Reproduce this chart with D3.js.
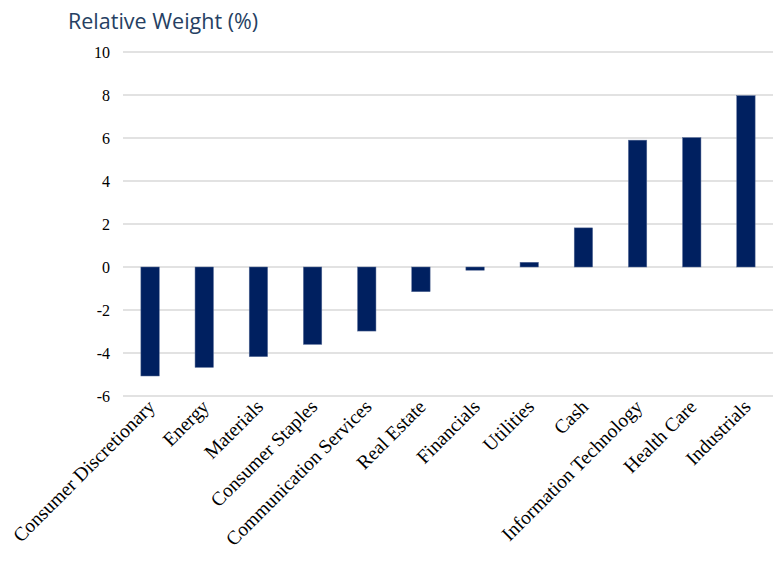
<!DOCTYPE html>
<html>
<head>
<meta charset="utf-8">
<script src="https://cdn.jsdelivr.net/npm/d3@7"></script>
<style>
  body { margin: 0; background: #fff; }
</style>
</head>
<body>
<div id="chart"></div>
<script>
// data
var sectors = ["Consumer Discretionary", "Energy", "Materials", "Consumer Staples",
  "Communication Services", "Real Estate", "Financials", "Utilities", "Cash",
  "Information Technology", "Health Care", "Industrials"];
var weights = [-5.07, -4.67, -4.17, -3.6, -2.98, -1.15, -0.15, 0.22, 1.82, 5.9, 6.02, 7.97];
var yTicks = [-6, -4, -2, 0, 2, 4, 6, 8, 10];

var svgWidth = 781, svgHeight = 569;
var margin = {top: 52, left: 123, bottom: 173, right: 8};
var chartwidth = svgWidth - margin.left - margin.right,
    chartheight = svgHeight - margin.top - margin.bottom;

var svg = d3.select("#chart")
  .append("svg")
    .attr("width", svgWidth)
    .attr("height", svgHeight);

svg.append("text")
  .attr("x", 68)
  .attr("y", 29)
  .attr("fill", "#263f63")
  .style("font-family", "'Open Sans', sans-serif")
  .style("font-size", "21.5px")
  .text("Relative Weight (%)");

var g = svg.append("g")
  .attr("transform", "translate(" + margin.left + "," + margin.top + ")");

var x = d3.scaleBand()
  .domain(sectors)
  .range([0, chartwidth])
  .paddingInner(0.66)
  .paddingOuter(0.33);

var y = d3.scaleLinear()
  .domain([-6, 10])
  .range([chartheight, 0]);

// gridlines
g.selectAll(".grid")
  .data(yTicks)
  .enter().append("line")
  .attr("class", "grid")
  .attr("x1", 0)
  .attr("x2", chartwidth)
  .attr("y1", d => y(d))
  .attr("y2", d => y(d))
  .attr("stroke", "#d9d9d9")
  .attr("stroke-width", 1.5);

// y axis labels (plain hyphen for negatives, like the original)
var yAxis = g.append("g")
  .call(d3.axisLeft(y).tickValues(yTicks).tickSize(0).tickPadding(13).tickFormat(d => String(d)));
yAxis.select(".domain").remove();
yAxis.selectAll("text")
  .style("font-family", "'Liberation Serif', serif")
  .style("font-size", "16px")
  .attr("fill", "#000");

// bars
g.selectAll(".bar")
  .data(weights)
  .enter().append("rect")
  .attr("class", "bar")
  .attr("x", (d, i) => x(sectors[i]))
  .attr("width", x.bandwidth())
  .attr("y", d => y(Math.max(0, d)))
  .attr("height", d => Math.abs(y(d) - y(0)))
  .attr("fill", "#002060")
  .attr("stroke", "#5b6f99")
  .attr("stroke-width", 0.5);

// category labels
var xAxis = g.append("g")
  .attr("transform", "translate(0," + chartheight + ")")
  .call(d3.axisBottom(x).tickSize(0).tickPadding(0));
xAxis.select(".domain").remove();
xAxis.selectAll("text")
  .style("font-family", "'Liberation Serif', serif")
  .style("font-size", "19.5px")
  .attr("fill", "#000")
  .style("text-anchor", "end")
  .attr("dy", null)
  .attr("transform", "translate(6,12) rotate(-45)");
</script>
</body>
</html>
